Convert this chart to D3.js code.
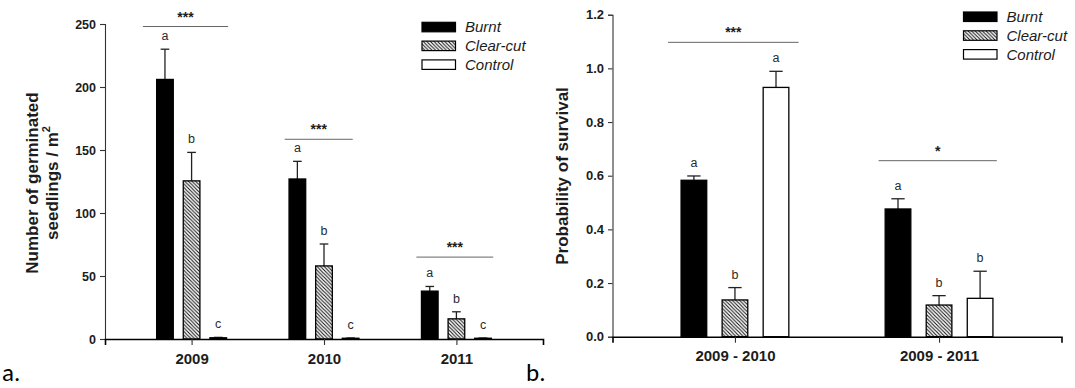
<!DOCTYPE html>
<html>
<head>
<meta charset="utf-8">
<script src="https://cdn.jsdelivr.net/npm/d3@7"></script>
<style>
  html, body { margin: 0; padding: 0; background: #fff; }
  svg { display: block; font-family: "Liberation Sans", Arial, sans-serif; }
</style>
</head>
<body>
<svg id="chart" width="1075" height="388"></svg>
<script>
// ---- data ----
const treatments = ["Burnt", "Clear-cut", "Control"];

// panel a: germinated seedlings per m2
const years = ["2009", "2010", "2011"];
const seedlingMean = {
  "Burnt":     [206, 127, 38],
  "Clear-cut": [125.5, 58, 16],
  "Control":   [1.0, 0.6, 0.6]
};
const seedlingSE = {
  "Burnt":     [24, 14, 3.7],
  "Clear-cut": [22.6, 17.4, 5.6],
  "Control":   [0.3, 0.2, 0.2]
};
const seedlingLetters = [["a", "b", "c"], ["a", "b", "c"], ["a", "b", "c"]];
const seedlingSig = ["***", "***", "***"];
const seedlingSigLevel = [248, 158.5, 65];
const seedlingSigSpan = [[-0.368, 0.276], [-0.297, 0.217], [-0.302, 0.278]];
const seedlingTicks = [0, 50, 100, 150, 200, 250];

// panel b: probability of survival
const periods = ["2009 - 2010", "2009 - 2011"];
const survivalMean = {
  "Burnt":     [0.583, 0.476],
  "Clear-cut": [0.137, 0.118],
  "Control":   [0.929, 0.143]
};
const survivalSE = {
  "Burnt":     [0.016, 0.038],
  "Clear-cut": [0.046, 0.035],
  "Control":   [0.060, 0.101]
};
const survivalLetters = [["a", "b", "a"], ["a", "b", "b"]];
const survivalSig = ["***", "*"];
const survivalSigLevel = [1.097, 0.656];
const survivalSigSpan = [[-0.328, 0.312], [-0.296, 0.283]];
const survivalTicks = [0, 0.2, 0.4, 0.6, 0.8, 1.0, 1.2];

// ---- drawing ----
const svg = d3.select("#chart");
const ink = "#1c1c1c";

// diagonal hatch for clear-cut bars
const defs = svg.append("defs");
const hatch = defs.append("pattern")
  .attr("id", "hatch")
  .attr("patternUnits", "userSpaceOnUse")
  .attr("width", 3.6).attr("height", 3.6);
hatch.append("rect").attr("width", 3.6).attr("height", 3.6).attr("fill", "#fff");
hatch.append("path")
  .attr("d", "M-0.9,-0.9 L4.5,4.5 M-0.9,2.7 L0.9,4.5 M2.7,-0.9 L4.5,0.9")
  .attr("stroke", "#111").attr("stroke-width", 1.05);

const fillOf = { "Burnt": "#000", "Clear-cut": "url(#hatch)", "Control": "#fff" };

function panel(cfg) {
  const g = svg.append("g");
  const x = d3.scaleLinear().domain(cfg.xDomain).range(cfg.xRange);
  const y = d3.scaleLinear().domain(cfg.yDomain).range(cfg.yRange);
  const inner = d3.scaleBand().domain(treatments).range([-0.264, 0.264]).paddingInner(0.375);
  const pxPerUnit = x(1) - x(0);
  const bw = inner.bandwidth() * pxPerUnit;

  // y axis
  const yAxis = g.append("g")
    .attr("transform", `translate(${cfg.xRange[0]},0)`)
    .call(d3.axisLeft(y).tickValues(cfg.yTicks).tickSize(cfg.tickLen).tickPadding(4)
      .tickFormat(cfg.yFormat));
  yAxis.select(".domain").attr("stroke", "#333").attr("stroke-width", 1.1);
  yAxis.selectAll(".tick line").attr("stroke", "#333").attr("stroke-width", 1.1);
  yAxis.selectAll(".tick text")
    .attr("fill", ink).attr("font-size", cfg.yFont).attr("font-weight", "bold")
    .attr("font-family", "Liberation Sans, Arial, sans-serif");

  // bars
  cfg.categories.forEach((cat, i) => {
    treatments.forEach(t => {
      const v = cfg.mean[t][i], se = cfg.se[t][i];
      const x0 = x(i + inner(t));
      const xc = x0 + bw / 2;
      // error bar (upper)
      g.append("line")
        .attr("x1", xc).attr("x2", xc)
        .attr("y1", y(v)).attr("y2", y(v + se))
        .attr("stroke", "#222").attr("stroke-width", 1.3);
      g.append("line")
        .attr("x1", xc - bw * 0.26).attr("x2", xc + bw * 0.26)
        .attr("y1", y(v + se)).attr("y2", y(v + se))
        .attr("stroke", "#222").attr("stroke-width", 1.3);
      g.append("rect")
        .attr("x", x0).attr("width", bw)
        .attr("y", y(v)).attr("height", y(0) - y(v))
        .attr("fill", fillOf[t])
        .attr("stroke", "#000").attr("stroke-width", 1.3);
      // letter group label
      const li = treatments.indexOf(t);
      g.append("text")
        .attr("x", xc).attr("y", y(v + se) - 9)
        .attr("text-anchor", "middle")
        .attr("font-size", 12.5).attr("fill", "#2a2a2a")
        .text(cfg.letters[i][li]);
    });

    // significance line and stars
    const span = cfg.sigSpan[i];
    const ly = y(cfg.sigLevel[i]);
    g.append("line")
      .attr("x1", x(i + span[0])).attr("x2", x(i + span[1]))
      .attr("y1", ly).attr("y2", ly)
      .attr("stroke", "#666").attr("stroke-width", 1);
    g.append("text")
      .attr("x", x(i + (span[0] + span[1]) / 2)).attr("y", ly - 5)
      .attr("text-anchor", "middle")
      .attr("font-size", 14).attr("font-weight", "bold").attr("fill", ink)
      .text(cfg.sig[i]);
  });

  // x axis
  const xAxis = g.append("g")
    .attr("transform", `translate(0,${cfg.yRange[0]})`)
    .call(d3.axisBottom(x).tickValues(d3.range(cfg.categories.length))
      .tickSize(6).tickPadding(8).tickFormat(i => cfg.categories[i]));
  xAxis.select(".domain").attr("stroke", "#000").attr("stroke-width", 1.6);
  xAxis.selectAll(".tick line").attr("stroke", "#333").attr("stroke-width", 1.1);
  xAxis.selectAll(".tick text")
    .attr("fill", ink).attr("font-size", 15).attr("font-weight", "bold")
    .attr("font-family", "Liberation Sans, Arial, sans-serif");

  // legend
  const lg = g.append("g").attr("transform", `translate(${cfg.legend[0]},${cfg.legend[1]})`);
  treatments.forEach((t, k) => {
    lg.append("rect")
      .attr("x", 0).attr("y", k * 18.8)
      .attr("width", 33.5).attr("height", 9.5)
      .attr("fill", fillOf[t]).attr("stroke", "#000").attr("stroke-width", 1.2);
    lg.append("text")
      .attr("x", 43).attr("y", k * 18.8 + 10)
      .attr("font-size", 15).attr("font-style", "italic").attr("fill", ink)
      .text(t);
  });

  // y title
  const title = g.append("text")
    .attr("transform", `translate(${cfg.title.x},${cfg.title.y}) rotate(-90)`)
    .attr("text-anchor", "middle")
    .attr("font-size", 17).attr("font-weight", "bold").attr("fill", ink);
  cfg.title.lines.forEach((ln, k) => {
    const ts = title.append("tspan").attr("x", 0).attr("dy", k === 0 ? 0 : 19.5);
    ts.text(ln);
    if (k === cfg.title.lines.length - 1 && cfg.title.sup) {
      title.append("tspan").attr("font-size", 11).attr("dy", -8).text(cfg.title.sup);
    }
  });

  // panel tag
  svg.append("text")
    .attr("x", cfg.tag.x).attr("y", cfg.tag.y)
    .attr("font-family", "Carlito, 'Open Sans', 'Liberation Sans', sans-serif")
    .attr("font-size", 25).attr("fill", "#000")
    .text(cfg.tag.text);
}

panel({
  categories: years,
  mean: seedlingMean, se: seedlingSE, letters: seedlingLetters,
  sig: seedlingSig, sigLevel: seedlingSigLevel, sigSpan: seedlingSigSpan,
  xDomain: [-0.654, 2.654], xRange: [105, 543],
  yDomain: [0, 250], yRange: [339, 24], yTicks: seedlingTicks,
  yFormat: d3.format("d"), yFont: 12.5, tickLen: 5,
  legend: [422, 22.3],
  title: { x: 38, y: 183, lines: ["Number of germinated", "seedlings / m"], sup: "2" },
  tag: { x: 2, y: 381, text: "a." }
});

panel({
  categories: periods,
  mean: survivalMean, se: survivalSE, letters: survivalLetters,
  sig: survivalSig, sigLevel: survivalSigLevel, sigSpan: survivalSigSpan,
  xDomain: [-0.6, 1.6], xRange: [612.5, 1061.5],
  yDomain: [0, 1.2], yRange: [336.7, 14.7], yTicks: survivalTicks,
  yFormat: d3.format(".1f"), yFont: 13, tickLen: 4.5,
  legend: [963.5, 12],
  title: { x: 567.5, y: 176, lines: ["Probability of survival"] },
  tag: { x: 526, y: 381, text: "b." }
});
</script>
</body>
</html>
